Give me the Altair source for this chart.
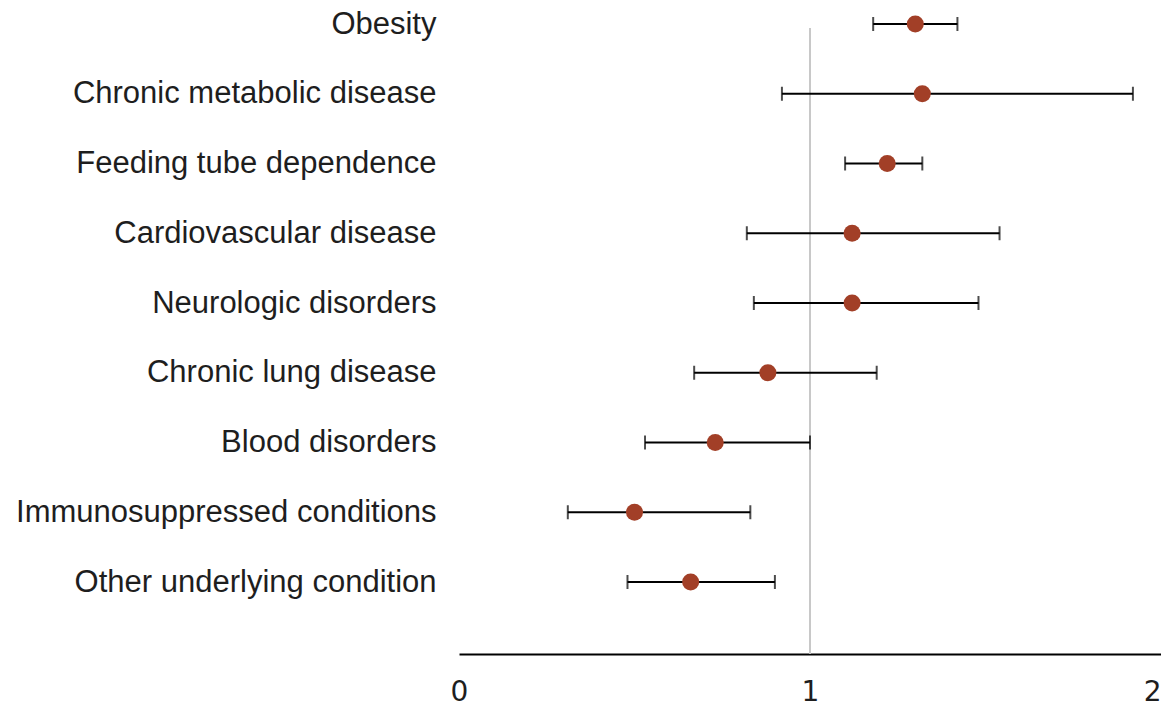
import altair as alt
import pandas as pd

conditions = [
    "Obesity",
    "Chronic metabolic disease",
    "Feeding tube dependence",
    "Cardiovascular disease",
    "Neurologic disorders",
    "Chronic lung disease",
    "Blood disorders",
    "Immunosuppressed conditions",
    "Other underlying condition",
]
estimate = [1.30, 1.32, 1.22, 1.12, 1.12, 0.88, 0.73, 0.50, 0.66]
lower = [1.18, 0.92, 1.10, 0.82, 0.84, 0.67, 0.53, 0.31, 0.48]
upper = [1.42, 1.92, 1.32, 1.54, 1.48, 1.19, 1.00, 0.83, 0.90]
x_ticks = [0, 1, 2]
reference = [1]

df = pd.DataFrame({"condition": conditions, "est": estimate, "lo": lower, "hi": upper})
ref_df = pd.DataFrame({"ref": reference})

y_enc = alt.Y(
    "condition:N",
    sort=conditions,
    scale=alt.Scale(type="point", range=[8, 566], padding=0),
    axis=alt.Axis(
        title=None,
        ticks=False,
        domain=False,
        grid=False,
        labelFontSize=31,
        labelFont="Liberation Sans",
        labelColor="#1e1e1e",
        labelPadding=23,
        labelLimit=600,
    ),
)
x_scale = alt.Scale(domain=[0, 2], nice=False)
x_axis = alt.Axis(
    title=None,
    values=x_ticks,
    labelExpr="format(datum.value, '.0f')",
    ticks=False,
    grid=False,
    domainColor="#000000",
    domainWidth=2,
    labelFontSize=28,
    labelFont="DejaVu Sans",
    labelColor="#1e1e1e",
    labelPadding=24,
    labelFlush=False,
    labelOverlap=False,
    labelAlign={"condition": {"test": "datum.value >= 2", "value": "right"}, "value": "center"},
)

ref_rule = alt.Chart(ref_df).mark_rule(color="#c8c8c8", strokeWidth=2).encode(
    x=alt.X("ref:Q", scale=x_scale, axis=x_axis),
    y=alt.value(12),
    y2=alt.value(638),
)

whisker = alt.Chart(df).mark_rule(color="#000000", strokeWidth=2).encode(
    x=alt.X("lo:Q", scale=x_scale, axis=x_axis),
    x2="hi:Q",
    y=y_enc,
)

cap_lo = alt.Chart(df).mark_tick(color="#000000", thickness=2, size=14, orient="vertical").encode(
    x=alt.X("lo:Q", scale=x_scale, axis=x_axis),
    y=y_enc,
)
cap_hi = alt.Chart(df).mark_tick(color="#000000", thickness=2, size=14, orient="vertical").encode(
    x=alt.X("hi:Q", scale=x_scale, axis=x_axis),
    y=y_enc,
)

points = alt.Chart(df).mark_circle(color="#a23f27", opacity=1, size=290).encode(
    x=alt.X("est:Q", scale=x_scale, axis=x_axis),
    y=y_enc,
)

chart = (
    alt.layer(ref_rule, whisker, cap_lo, cap_hi, points)
    .properties(
        width=702,
        height=638,
        background="#ffffff",
        autosize=alt.AutoSizeParams(type="none"),
        padding={"left": 451, "top": 8, "right": 0, "bottom": 50},
    )
    .configure_view(strokeWidth=0, stroke=None)
)

chart.save("out.html", embed_options={"renderer": "svg", "actions": False})
